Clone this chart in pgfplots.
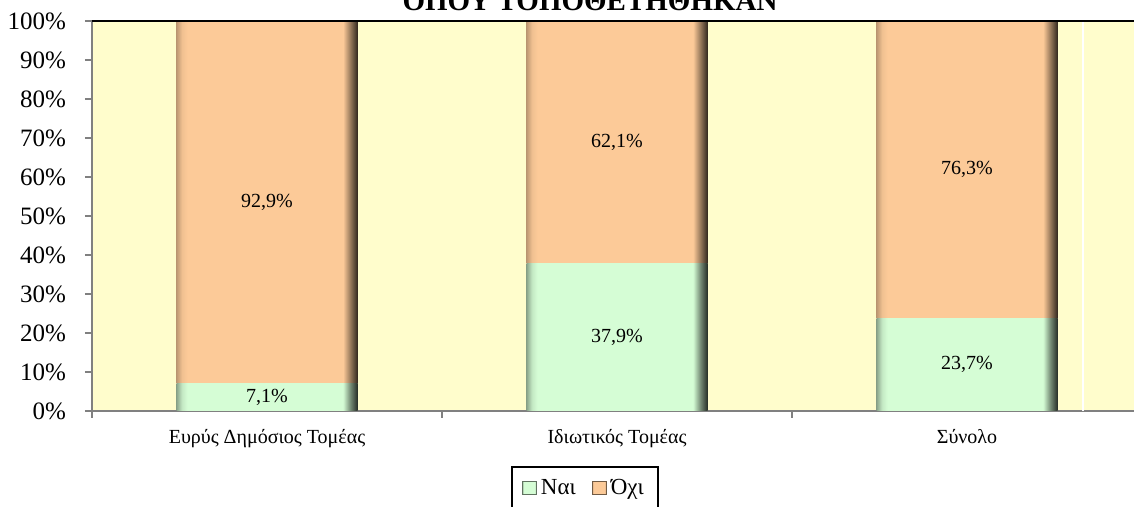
\documentclass[border=0pt]{standalone}
\usepackage{fontspec}
\setmainfont{Liberation Serif}
\usepackage{pgfplots}
\pgfplotsset{compat=1.18}
\definecolor{bgy}{RGB}{255,253,204}
\definecolor{ora}{RGB}{252,202,152}
\definecolor{grn}{RGB}{213,253,213}
\definecolor{axg}{RGB}{128,128,128}

\pgfdeclarehorizontalshading{orash}{100bp}{color(0bp)=(ora!75!black); color(25bp)=(ora!75!black); color(26.5bp)=(ora!95!black); color(28bp)=(ora); color(71bp)=(ora); color(73bp)=(ora!60!black); color(75bp)=(ora!20!black); color(100bp)=(ora!20!black)}
\pgfdeclarehorizontalshading{grnsh}{100bp}{color(0bp)=(grn!65!black); color(25bp)=(grn!65!black); color(26.5bp)=(grn!92!black); color(28bp)=(grn); color(71bp)=(grn); color(73bp)=(grn!55!black); color(75bp)=(grn!18!black); color(100bp)=(grn!18!black)}

\pgfplotsset{
  /pgf/number format/assume math mode=true,
  base/.style={
    at={(0,0)}, anchor=south west,
    scale only axis, width=521pt, height=195pt,
    xmin=-0.5, xmax=2.477, ymin=0, ymax=100,
    clip=false,
  },
  common/.style={base, ybar stacked, bar width=90.5pt},
  gbar/.style={draw=none, shading=grnsh, shading angle=0,
    legend image code/.code={\path[fill=grn, draw=grn!45!black, line width=0.5pt] (0pt,-3pt) rectangle (7pt,3.5pt);}},
  obar/.style={draw=none, shading=orash, shading angle=0,
    legend image code/.code={\path[fill=ora, draw=ora!45!black, line width=0.5pt] (0pt,-3pt) rectangle (7pt,3.5pt);}},
}

\begin{document}
\begin{tikzpicture}
\begin{axis}[common, name=ax,
  axis background/.style={fill=bgy},
  axis x line*=bottom, axis y line*=left,
  axis line style={axg, line width=1pt},
  ytick={0,10,...,100},
  yticklabel={\pgfmathprintnumber{\tick}\%},
  tick align=outside,
  major tick length=3.5pt,
  tick style={axg, line width=0.8pt},
  yticklabel style={font=\fontsize{12.5}{14}\selectfont, anchor=east, xshift=-6pt},
  xtick={-0.5,0.5,1.5}, xticklabels={,,},
  extra x ticks={0,1,2},
  extra x tick labels={Ευρύς Δημόσιος Τομέας, Ιδιωτικός Τομέας, Σύνολο},
  extra x tick style={major tick length=0pt, tick label style={font=\fontsize{10}{12}\selectfont, anchor=base, yshift=-16.5pt}},
  legend columns=2,
  legend style={at={(0.473,-0.141)}, anchor=north, draw=black, line width=1pt,
    font=\fontsize{11.5}{13}\selectfont, inner xsep=5pt, inner ysep=4pt,
    /tikz/every even column/.append style={column sep=6pt}},
]
\draw[white, line width=0.6pt] (axis cs:2.331,0) -- (axis cs:2.331,100);
\addplot[gbar] coordinates {(0,7.1)};
\addlegendentry{Ναι}
\addplot[obar] coordinates {(0,92.9)};
\addlegendentry{Όχι}
\end{axis}
\begin{axis}[common, hide axis]
\addplot[gbar] coordinates {(1,37.9)};
\addplot[obar] coordinates {(1,62.1)};
\end{axis}
\begin{axis}[common, hide axis]
\addplot[gbar] coordinates {(2,23.7)};
\addplot[obar] coordinates {(2,76.3)};
\end{axis}
% data labels at the middle of each segment
\begin{axis}[base, hide axis]
\addplot[only marks, mark=none, point meta=explicit symbolic,
  nodes near coords,
  every node near coord/.append style={anchor=center, font=\fontsize{10}{12}\selectfont, text=black}]
  coordinates {
    (0,3.55) [7,1\%]
    (0,53.55) [92,9\%]
    (1,18.95) [37,9\%]
    (1,68.95) [62,1\%]
    (2,11.85) [23,7\%]
    (2,61.85) [76,3\%]
  };
\end{axis}
\draw[black, line width=1pt] (0,195pt) -- (521pt,195pt);
\node[anchor=base, font=\bfseries\fontsize{14.5}{17}\selectfont] at (249pt,200pt) {ΟΠΟΥ ΤΟΠΟΘΕΤΗΘΗΚΑΝ};
\pgfresetboundingbox
\useasboundingbox (-46pt,-48pt) rectangle (521pt,205.5pt);
\end{tikzpicture}
\end{document}
